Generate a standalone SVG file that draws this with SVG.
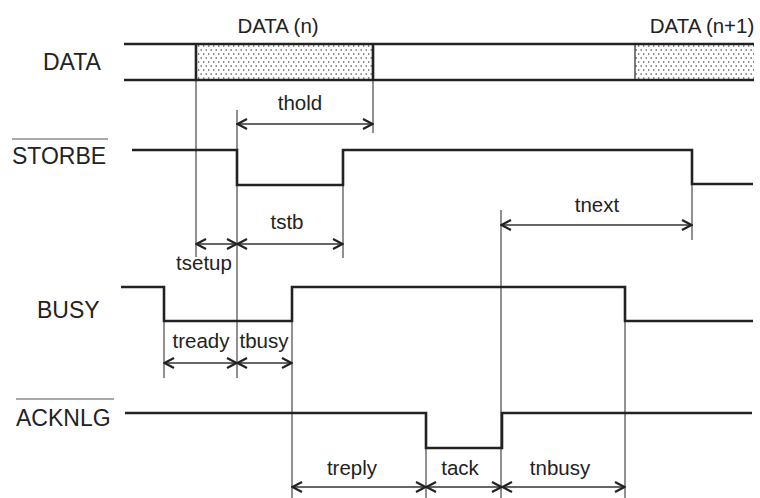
<svg xmlns="http://www.w3.org/2000/svg" width="760" height="498" viewBox="0 0 760 498">
<style>
.sig{fill:none;stroke:#222;stroke-width:2.6;stroke-linejoin:miter}
.thin{fill:none;stroke:#222;stroke-width:1}
.dim{fill:none;stroke:#333;stroke-width:1.3;marker-start:url(#ah);marker-end:url(#ah)}
.lbl{font-family:"Liberation Sans",Arial,sans-serif;font-size:23px;fill:#222}
.ann{font-family:"Liberation Sans",Arial,sans-serif;font-size:20.5px;fill:#222;text-anchor:middle}
.ov{stroke:#555;stroke-width:1.2}
</style>
<defs>
<pattern id="dots" width="5" height="8" patternUnits="userSpaceOnUse">
<rect width="5" height="8" fill="#fff"/>
<circle cx="1.2" cy="2" r="0.8" fill="#444"/>
<circle cx="3.7" cy="6" r="0.8" fill="#444"/>
</pattern>
<marker id="ah" viewBox="-12 -6 13 12" markerWidth="13" markerHeight="12" refX="0" refY="0" orient="auto-start-reverse" markerUnits="userSpaceOnUse">
<path d="M-10,-5 L-0.5,0 L-10,5" fill="none" stroke="#222" stroke-width="2.2"/>
</marker>
</defs>
<rect width="760" height="498" fill="#fff"/>

<g id="data">
<rect x="196" y="44" width="177" height="36" fill="url(#dots)"/>
<rect x="635" y="44" width="119" height="36" fill="url(#dots)"/>
<path class="sig" d="M124,44 H754 M124,80 H754 M196,44 V80 M373,44 V80"/>
<path d="M635,44 V80" fill="none" stroke="#222" stroke-width="1.2"/>
<text class="lbl" x="43" y="70">DATA</text>
<text class="ann" x="278" y="33" font-size="21">DATA (n)</text>
<text class="ann" x="702" y="33" font-size="21">DATA (n+1)</text>
</g>

<g id="storbe">
<path class="sig" d="M132,150 H237 V185 H343 V150 H692 V184 H753"/>
<line class="ov" x1="12" y1="139" x2="108" y2="139"/>
<text class="lbl" x="12" y="164">STORBE</text>
</g>

<g id="busy">
<path class="sig" d="M121,287 H164 V321 H292 V287 H625 V321 H753"/>
<text class="lbl" x="37" y="318">BUSY</text>
</g>

<g id="acknlg">
<path class="sig" d="M125,413 H426 V448 H502 V413 H752"/>
<line class="ov" x1="16" y1="399" x2="114" y2="399"/>
<text class="lbl" x="16" y="426">ACKNLG</text>
</g>

<g id="connectors">
<path class="thin" d="M196,80 V257 M237,110 V378 M373,80 V133 M343,185 V258 M501,210 V498 M692,184 V240 M164,321 V378 M292,287 V498 M426,448 V498 M625,321 V498"/>
<line class="dim" x1="237" y1="124" x2="373" y2="124"/>
<line class="dim" x1="196" y1="244" x2="237" y2="244"/>
<line class="dim" x1="237" y1="244" x2="343" y2="244"/>
<line class="dim" x1="501" y1="225" x2="692" y2="225"/>
<line class="dim" x1="164" y1="363" x2="237" y2="363"/>
<line class="dim" x1="237" y1="363" x2="292" y2="363"/>
<line class="dim" x1="292" y1="487" x2="426" y2="487"/>
<line class="dim" x1="426" y1="487" x2="502" y2="487"/>
<line class="dim" x1="502" y1="487" x2="625" y2="487"/>
<text class="ann" x="300" y="110">thold</text>
<text class="ann" x="204" y="270">tsetup</text>
<text class="ann" x="287" y="229">tstb</text>
<text class="ann" x="597" y="212">tnext</text>
<text class="ann" x="201" y="348">tready</text>
<text class="ann" x="264" y="348">tbusy</text>
<text class="ann" x="352" y="475">treply</text>
<text class="ann" x="460" y="475">tack</text>
<text class="ann" x="560" y="475">tnbusy</text>
</g>
</svg>
